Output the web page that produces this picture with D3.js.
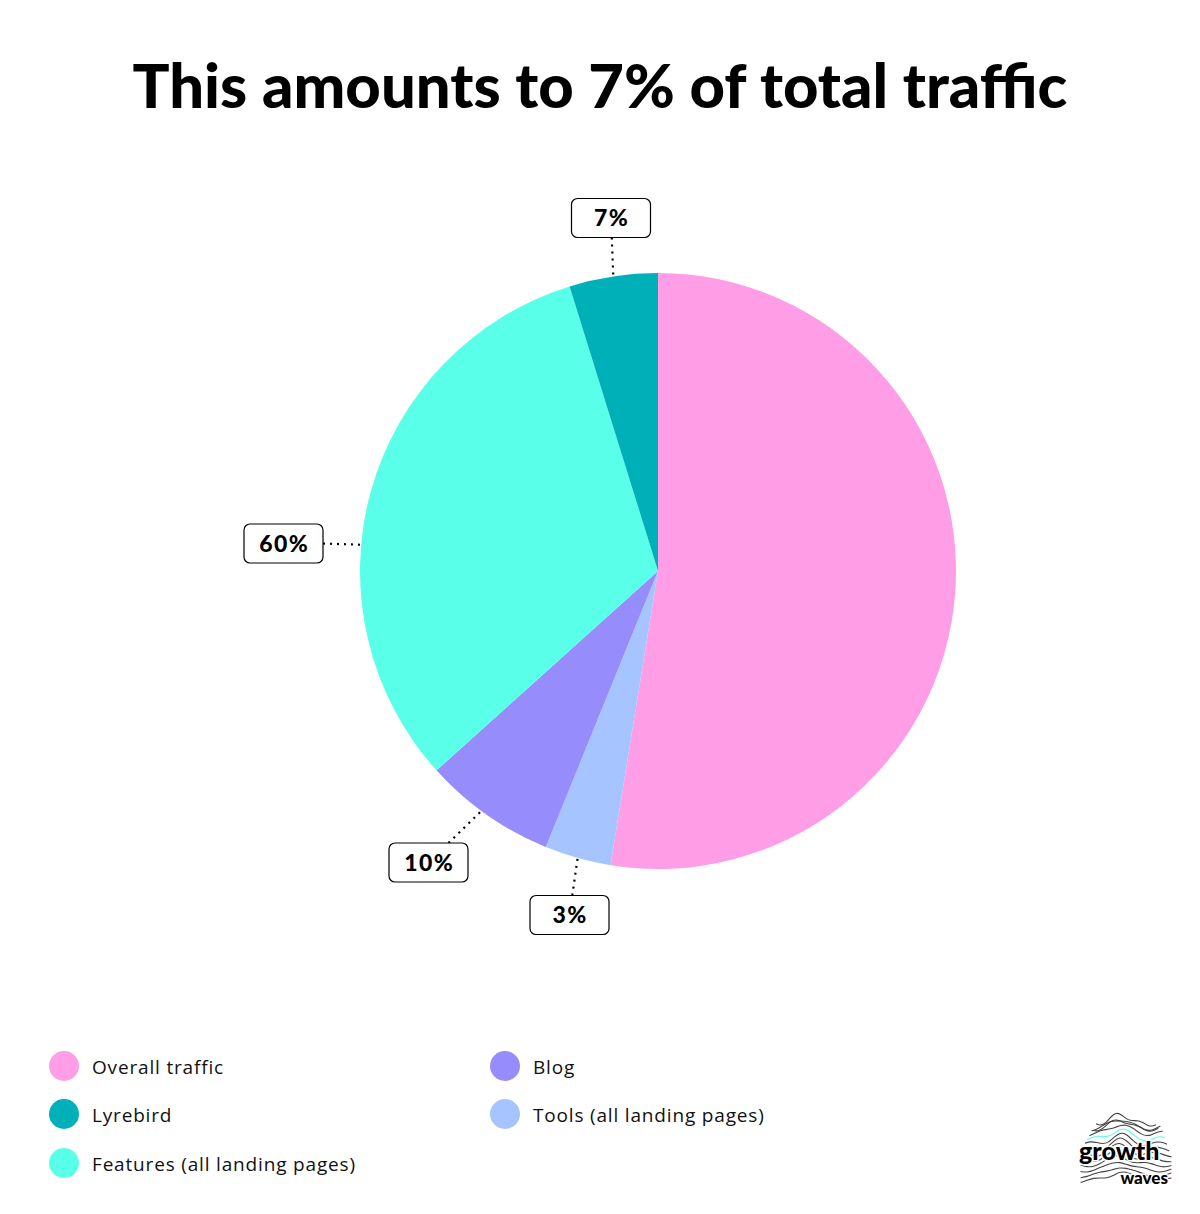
<!DOCTYPE html>
<html><head><meta charset="utf-8">
<script src="https://cdn.jsdelivr.net/npm/d3@7"></script>
<style>
html,body{margin:0;padding:0;background:#fff;}
svg{display:block;}
</style></head>
<body>
<script>
// ---- data ----
const title = "This amounts to 7% of total traffic";
const categories = ["Overall traffic", "Tools (all landing pages)", "Blog", "Features (all landing pages)", "Lyrebird"];
const values = [52.6, 3.6, 7.2, 31.9, 4.8];
const colors = ["#ff9de6", "#a6c4ff", "#968cfb", "#5affe9", "#00b0b9"];
const legendOrder = ["Overall traffic", "Lyrebird", "Features (all landing pages)", "Blog", "Tools (all landing pages)"];
const labelTexts = ["3%", "10%", "60%", "7%"];
const labelCats = ["Tools (all landing pages)", "Blog", "Features (all landing pages)", "Lyrebird"];

// ---- layout ----
const W = 1200, H = 1214;
const cx = 658, cy = 571, R = 298;
const FONT = "Lato, 'Open Sans', sans-serif";
const FONT2 = "'Open Sans', Lato, sans-serif";
const svg = d3.select("body").append("svg").attr("width", W).attr("height", H);
svg.append("rect").attr("width", W).attr("height", H).attr("fill", "#fff");

// title
const t = svg.append("text").attr("x", W/2).attr("y", 108).attr("text-anchor", "middle")
  .attr("font-family", FONT).attr("font-weight", 900).attr("font-size", 52)
  .attr("fill", "#000").text(title);
const tw = t.node().getComputedTextLength();
t.attr("font-size", 52 * 935 / tw);

const color = d3.scaleOrdinal().domain(categories).range(colors);
const pie = d3.pie().sort(null).value(d => d.v);
const data = categories.map((c, i) => ({c, v: values[i]}));
const arcs = pie(data);
const arc = d3.arc().innerRadius(0).outerRadius(R);
const g = svg.append("g").attr("transform", `translate(${cx},${cy})`);
g.selectAll("path").data(arcs).join("path").attr("d", arc).attr("fill", d => color(d.data.c));

// labels: anchor angle fraction inside slice (0..1), box center
const labelLayout = [
  {f: 0.5, bx: 569.5, by: 915},
  {f: 0.55, bx: 428.5, by: 862.5},
  {f: 0.41, bx: 283.5, by: 543.5},
  {f: 0.5, bx: 611, by: 218}
];
const bw = 79, bh = 39;
const LFS = 23;
const probe = svg.append("text").attr("font-family", FONT).attr("font-weight", 900).attr("font-size", LFS).text("60%");
const pw = probe.node().getComputedTextLength();
probe.remove();
const labelLS = Math.max(0, (50 - pw) / 3);
labelTexts.forEach((txt, i) => {
  const a = arcs.find(d => d.data.c === labelCats[i]);
  const L = labelLayout[i];
  const ang = a.startAngle + (a.endAngle - a.startAngle) * L.f;
  const px = cx + R * Math.sin(ang), py = cy - R * Math.cos(ang);
  let ex, ey;
  const dx = px - L.bx, dy = py - L.by;
  if (Math.abs(dx) / (bw/2) > Math.abs(dy) / (bh/2)) {
    ex = L.bx + Math.sign(dx) * bw/2; ey = L.by;
  } else {
    ey = L.by + Math.sign(dy) * bh/2;
    ex = L.bx + Math.max(-bw/2 + 6, Math.min(bw/2 - 6, dx * (bh/2) / Math.abs(dy)));
  }
  svg.append("line").attr("x1", ex).attr("y1", ey).attr("x2", px).attr("y2", py)
    .attr("stroke", "#000").attr("stroke-width", 2.2).attr("stroke-dasharray", "2,5");
  svg.append("rect").attr("x", L.bx - bw/2).attr("y", L.by - bh/2).attr("width", bw).attr("height", bh)
    .attr("rx", 6).attr("fill", "#fff").attr("stroke", "#000").attr("stroke-width", 1.2);
  svg.append("text").attr("x", L.bx + labelLS/2).attr("y", L.by + 8).attr("text-anchor", "middle")
    .attr("font-family", FONT).attr("font-weight", 900).attr("font-size", LFS)
    .attr("letter-spacing", labelLS).attr("fill", "#000").text(txt);
});

// legend
const legendPos = [
  {x: 64, y: 1066}, {x: 64, y: 1114}, {x: 64, y: 1163},
  {x: 505, y: 1066}, {x: 505, y: 1114}
];
const probe2 = svg.append("text").attr("font-family", FONT2).attr("font-size", 19).text("Features (all landing pages)");
const pw2 = probe2.node().getComputedTextLength();
probe2.remove();
const legLS = Math.max(0, (263 - pw2) / 27);
legendOrder.forEach((c, i) => {
  const p = legendPos[i];
  svg.append("circle").attr("cx", p.x).attr("cy", p.y).attr("r", 15).attr("fill", color(c));
  svg.append("text").attr("x", p.x + 28).attr("y", p.y + 8).attr("font-family", FONT2)
    .attr("font-size", 19).attr("fill", "#111").attr("letter-spacing", legLS).text(c);
});

// logo (decorative wave mound)
const logo = svg.append("g");
const line = d3.line().curve(d3.curveBasis);
for (let k = 0; k < 13; k++) {
  const y0 = 1118 + k * 5.2;
  const pts = [];
  const half = 30 + Math.min(k, 7) * 2.2;
  for (let s = 0; s <= 14; s++) {
    const x = 1126 - half + s * (2 * half / 14);
    const bump = -10 * Math.exp(-Math.pow((x - 1120) / 12, 2)) + 2.5 * Math.sin(s * 1.1 + k * 0.7);
    pts.push([x, y0 + bump + (k < 2 ? 6 : 0)]);
  }
  logo.append("path").attr("d", line(pts)).attr("fill", "none")
    .attr("stroke", k === 4 ? "#5affe9" : "#444").attr("stroke-width", 1.1);
}
logo.append("text").attr("x", 1079).attr("y", 1160).attr("font-family", FONT).attr("font-weight", 900)
  .attr("font-size", 25).attr("fill", "#000").attr("stroke", "#fff").attr("stroke-width", 3)
  .attr("paint-order", "stroke").text("growth");
logo.append("text").attr("x", 1168).attr("y", 1184).attr("text-anchor", "end").attr("font-family", FONT).attr("font-weight", 900)
  .attr("font-size", 17).attr("fill", "#000").attr("stroke", "#fff").attr("stroke-width", 3)
  .attr("paint-order", "stroke").text("waves");
</script>
</body></html>
